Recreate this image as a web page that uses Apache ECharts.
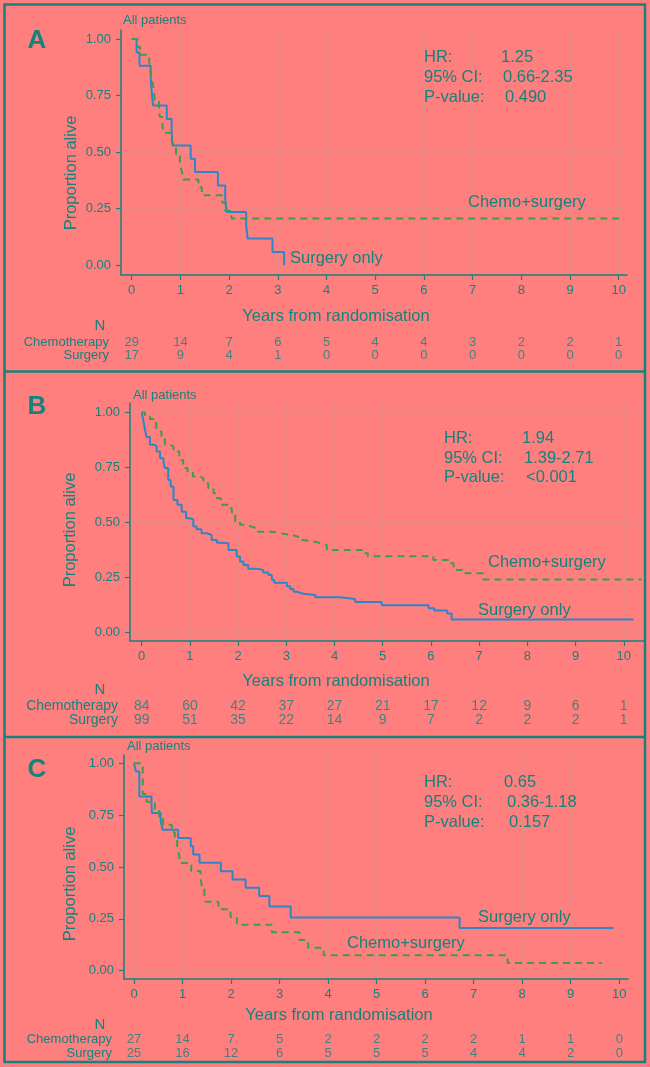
<!DOCTYPE html>
<html><head><meta charset="utf-8">
<script src="https://cdn.jsdelivr.net/npm/echarts@6/dist/echarts.min.js"></script>
<style>html,body{margin:0;padding:0;background:#FF7F7F;}#c{width:650px;height:1067px;}</style>
</head><body><div id="c"></div>
<script>
// ---------- data ----------
const years = [0,1,2,3,4,5,6,7,8,9,10];
const yTickValues = [0,0.25,0.5,0.75,1];
const riskRows = ['Surgery','Chemotherapy'];
const subTitle = 'All patients';
const xTitle = 'Years from randomisation';
const yTitle = 'Proportion alive';
const statLabels = ['HR:','95% CI:','P-value:'];
const chemoLabel = 'Chemo+surgery';
const surgeryLabel = 'Surgery only';

// Panel A
const aSurgeryTime = [0,0.10,0.16,0.39,0.41,0.44,0.72,0.82,0.84,1.21,1.30,1.77,1.92,1.95,2.35,2.38,2.89,3.13];
const aSurgerySurv = [1,0.941,0.882,0.824,0.765,0.706,0.647,0.588,0.529,0.471,0.412,0.353,0.294,0.235,0.176,0.118,0.059,0];
const aChemoTime = [0,0.12,0.17,0.36,0.38,0.41,0.44,0.46,0.48,0.56,0.58,0.63,0.65,0.82,0.86,0.91,0.99,1.03,1.06,1.37,1.44,1.86,1.92,2.05,10.08];
const aChemoSurv = [1,0.966,0.931,0.897,0.862,0.828,0.793,0.759,0.724,0.690,0.655,0.621,0.586,0.552,0.517,0.483,0.448,0.414,0.379,0.345,0.310,0.276,0.241,0.207,0.207];
const aChemoRisk = [29,14,7,6,5,4,4,3,2,2,1];
const aSurgeryRisk = [17,9,4,1,0,0,0,0,0,0,0];
const aStats = ['1.25','0.66-2.35','0.490'];

// Panel B
const bSurgeryTime = [0,0.03,0.07,0.10,0.17,0.26,0.31,0.38,0.45,0.48,0.55,0.60,0.66,0.74,0.83,0.92,1.00,1.07,1.14,1.24,1.35,1.45,1.56,1.63,1.80,1.97,2.04,2.11,2.21,2.39,2.52,2.63,2.70,2.75,3.01,3.08,3.15,3.22,3.35,3.60,4.11,4.43,4.98,5.95,6.07,6.34,6.43,10.2];
const bSurgerySurv = [1,0.967,0.92,0.888,0.853,0.848,0.822,0.792,0.777,0.747,0.693,0.663,0.602,0.58,0.549,0.519,0.514,0.481,0.469,0.451,0.443,0.42,0.408,0.405,0.375,0.345,0.322,0.307,0.29,0.284,0.272,0.261,0.238,0.226,0.21,0.197,0.185,0.176,0.17,0.16,0.152,0.138,0.124,0.11,0.10,0.086,0.059,0.059];
const bChemoTime = [0,0.07,0.17,0.24,0.30,0.33,0.41,0.48,0.59,0.66,0.78,0.86,0.95,1.06,1.21,1.28,1.38,1.49,1.56,1.64,1.80,1.87,1.94,2.04,2.18,2.28,2.39,2.73,2.87,3.11,3.25,3.35,3.56,3.73,3.84,4.60,4.69,6.05,6.40,6.47,6.67,7.08,10.37];
const bChemoSurv = [1,0.98,0.97,0.96,0.93,0.913,0.883,0.853,0.845,0.822,0.784,0.747,0.727,0.709,0.701,0.678,0.656,0.633,0.61,0.58,0.565,0.534,0.504,0.489,0.481,0.473,0.458,0.451,0.443,0.435,0.42,0.413,0.405,0.398,0.375,0.36,0.346,0.329,0.314,0.284,0.269,0.241,0.241];
const bChemoRisk = [84,60,42,37,27,21,17,12,9,6,1];
const bSurgeryRisk = [99,51,35,22,14,9,7,2,2,2,1];
const bStats = ['1.94','1.39-2.71','<0.001'];

// Panel C
const cSurgeryTime = [0,0.04,0.11,0.36,0.37,0.55,0.59,0.91,1.17,1.22,1.35,1.79,2.03,2.30,2.58,2.79,3.23,6.71,9.88];
const cSurgerySurv = [1,0.96,0.84,0.80,0.76,0.72,0.68,0.64,0.60,0.56,0.52,0.48,0.44,0.40,0.36,0.309,0.257,0.206,0.206];
const cChemoTime = [0,0.18,0.26,0.43,0.52,0.60,0.78,0.84,0.89,0.93,0.95,1.18,1.37,1.40,1.45,1.47,1.74,1.99,2.12,2.84,3.41,3.59,3.91,7.70,9.64];
const cChemoSurv = [1,0.852,0.815,0.778,0.741,0.704,0.667,0.630,0.593,0.556,0.519,0.481,0.444,0.407,0.370,0.333,0.296,0.259,0.222,0.185,0.148,0.111,0.074,0.037,0.037];
const cChemoRisk = [27,14,7,5,2,2,2,2,1,1,0];
const cSurgeryRisk = [25,16,12,6,5,5,5,4,4,2,0];
const cStats = ['0.65','0.36-1.18','0.157'];

// ---------- style / layout ----------
const TEAL = '#13837E', BLUE = '#2E86C8', GREEN = '#3C9F46', GRIDC = '#EB8985';
const FONT = '"Liberation Sans", Arial, sans-serif';

const panels = [
  {letter:'A', letterY:41, left:121, width:506, top:30, height:245, xmin:-0.22, xmax:10.17, ymin:-0.043, ymax:1.04,
   riskTop:335.6, riskH:26.8, riskFont:13, nY:326, subX:123, subY:20,
   statX:424, statVX:[501,503,505], statY:[57,77,97], chemoLX:468, chemoLY:202, surgLX:290, surgLY:258,
   xTitleX:336, xTitleY:316, yTitleX:71, yTitleY:173,
   sT:aSurgeryTime, sS:aSurgerySurv, cT:aChemoTime, cS:aChemoSurv, cR:aChemoRisk, sR:aSurgeryRisk, stats:aStats},
  {letter:'B', letterY:407, left:130, width:514, top:403, height:238, xmin:-0.243, xmax:10.42, ymin:-0.039, ymax:1.043,
   riskTop:699, riskH:28, riskFont:14, nY:690, subX:133, subY:395,
   statX:444, statVX:[522,524,526], statY:[438,458,477], chemoLX:488, chemoLY:562, surgLX:478, surgLY:610,
   xTitleX:336, xTitleY:681, yTitleX:70, yTitleY:530,
   sT:bSurgeryTime, sS:bSurgerySurv, cT:bChemoTime, cS:bChemoSurv, cR:bChemoRisk, sR:bSurgeryRisk, stats:bStats},
  {letter:'C', letterY:770, left:124, width:504, top:755, height:224, xmin:-0.206, xmax:10.18, ymin:-0.04, ymax:1.04,
   riskTop:1032.3, riskH:28, riskFont:13, nY:1025, subX:127, subY:746,
   statX:424, statVX:[504,507,509], statY:[782,802,822], chemoLX:347, chemoLY:943, surgLX:478, surgLY:917,
   xTitleX:339, xTitleY:1015, yTitleX:70, yTitleY:884,
   sT:cSurgeryTime, sS:cSurgerySurv, cT:cChemoTime, cS:cChemoSurv, cR:cChemoRisk, sR:cSurgeryRisk, stats:cStats}
];

const grid = [], xAxis = [], yAxis = [], series = [], graphic = [];
function txt(x, y, text, size, opts) {
  return Object.assign({type:'text', x:x, y:y, silent:true, z:10,
    style:{text:text, fill:TEAL, font: (opts && opts.bold ? 'bold ' : '') + size + 'px ' + FONT,
      align:(opts && opts.align) || 'left', verticalAlign:'middle'}}, opts && opts.extra ? opts.extra : {});
}

panels.forEach((p, i) => {
  const gMain = grid.length;
  grid.push({left:p.left, top:p.top, width:p.width, height:p.height, containLabel:false});
  grid.push({left:p.left, top:p.riskTop, width:p.width, height:p.riskH, containLabel:false});
  xAxis.push({type:'value', gridIndex:gMain, min:p.xmin, max:p.xmax,
    axisLine:{show:true, onZero:false, lineStyle:{color:TEAL, width:1.5}},
    axisTick:{show:true, customValues:years, length:5, lineStyle:{color:TEAL, width:1.2}},
    axisLabel:{customValues:years, color:TEAL, fontSize:13, fontFamily:FONT, margin:9},
    splitLine:{show:true, lineStyle:{color:GRIDC, width:1}}});
  yAxis.push({type:'value', gridIndex:gMain, min:p.ymin, max:p.ymax,
    axisLine:{show:true, onZero:false, lineStyle:{color:TEAL, width:1.5}},
    axisTick:{show:true, customValues:yTickValues, length:5, lineStyle:{color:TEAL, width:1.2}},
    axisLabel:{customValues:yTickValues, color:TEAL, fontSize:13, fontFamily:FONT, margin:10,
      formatter: v => Number(v).toFixed(2)},
    splitLine:{show:true, lineStyle:{color:GRIDC, width:1}}});
  xAxis.push({type:'value', gridIndex:gMain+1, min:p.xmin, max:p.xmax, show:false});
  yAxis.push({type:'category', gridIndex:gMain+1, data:riskRows,
    axisLine:{show:false}, axisTick:{show:false}, splitLine:{show:false},
    axisLabel:{color:TEAL, fontSize:p.riskFont, fontFamily:FONT, margin:12, interval:0, hideOverlap:false}});

  series.push({type:'line', name:surgeryLabel, xAxisIndex:gMain, yAxisIndex:gMain, step:'end',
    showSymbol:false, symbol:'none', animation:false, clip:false,
    lineStyle:{color:BLUE, width:2}, data:p.sT.map((t, k) => [t, p.sS[k]]), z:3});
  series.push({type:'line', name:chemoLabel, xAxisIndex:gMain, yAxisIndex:gMain, step:'end',
    showSymbol:false, symbol:'none', animation:false, clip:false,
    lineStyle:{color:GREEN, width:2, type:[7,5]}, data:p.cT.map((t, k) => [t, p.cS[k]]), z:4});
  const riskData = [];
  years.forEach((y, k) => {
    riskData.push([y, 'Chemotherapy', p.cR[k]]);
    riskData.push([y, 'Surgery', p.sR[k]]);
  });
  series.push({type:'scatter', xAxisIndex:gMain+1, yAxisIndex:gMain+1, symbolSize:1, animation:false,
    itemStyle:{color:'transparent'}, silent:true,
    label:{show:true, position:'inside', color:TEAL, fontSize:p.riskFont, fontFamily:FONT,
      formatter: q => String(q.value[2])}, data:riskData});

  // annotations
  graphic.push(txt(37, p.letterY, p.letter, 26, {bold:true, align:'center'}));
  graphic.push(txt(p.subX, p.subY, subTitle, 13));
  statLabels.forEach((s, k) => {
    graphic.push(txt(p.statX, p.statY[k], s, 16.5));
    graphic.push(txt(p.statVX[k], p.statY[k], p.stats[k], 16.5));
  });
  graphic.push(txt(p.chemoLX, p.chemoLY, chemoLabel, 16.5));
  graphic.push(txt(p.surgLX, p.surgLY, surgeryLabel, 16.5));
  graphic.push(txt(p.xTitleX, p.xTitleY, xTitle, 16.5, {align:'center'}));
  graphic.push(txt(p.yTitleX, p.yTitleY, yTitle, 16.5, {align:'center', extra:{rotation:Math.PI/2}}));
  graphic.push(txt(100, p.nY, 'N', 15, {align:'center'}));
});

// frame
graphic.push({type:'rect', shape:{x:4.5, y:4.5, width:640.5, height:1057.5}, silent:true,
  style:{fill:null, stroke:TEAL, lineWidth:2.5}});
graphic.push({type:'line', shape:{x1:4.5, y1:371.5, x2:645, y2:371.5}, silent:true, style:{stroke:TEAL, lineWidth:2.5}});
graphic.push({type:'line', shape:{x1:4.5, y1:737, x2:645, y2:737}, silent:true, style:{stroke:TEAL, lineWidth:2.5}});

const chart = echarts.init(document.getElementById('c'), null, {renderer:'canvas'});
chart.setOption({backgroundColor:'#FF7F7F', animation:false, grid, xAxis, yAxis, series, graphic});
</script></body></html>
